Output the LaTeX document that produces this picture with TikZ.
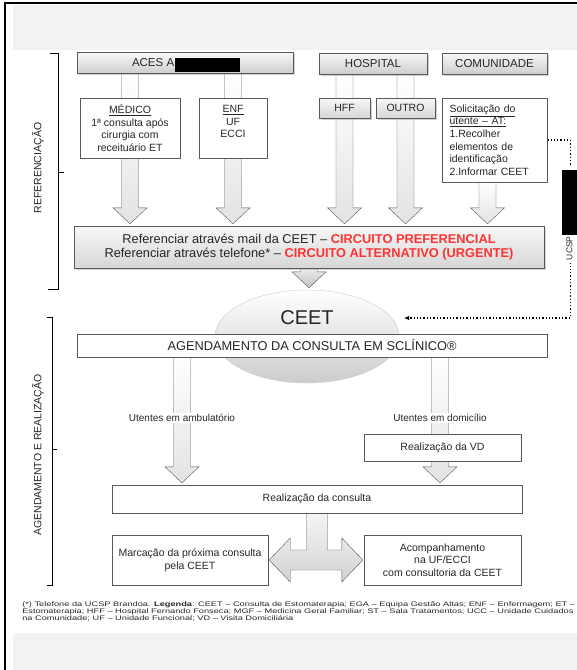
\documentclass[tikz,border=0pt]{standalone}
\usepackage{fontspec}
\setmainfont{Liberation Sans}
\usetikzlibrary{arrows.meta, calc, shadows, shapes.geometric}

\pgfdeclarelayer{bg}
\pgfdeclarelayer{arrows}
\pgfsetlayers{bg,arrows,main}

\definecolor{txtgray}{HTML}{262626}
\definecolor{linegray}{HTML}{595959}
\definecolor{panelgray}{HTML}{F2F2F2}
\definecolor{circred}{HTML}{FF3333}

\newcommand{\fsz}[2]{\fontsize{#1}{#2}\selectfont}

% hollow down arrow: x taken from #2, starts at #3, tip at #4
\newcommand{\blockdown}[4][]{%
  \path[blockarr,#1] let \p1=(#2), \p2=(#3), \p3=(#4) in
    (\x1-8.5pt,\y2) -- (\x1+8.5pt,\y2) -- (\x1+8.5pt,\y3+18pt)
    -- (\x1+17pt,\y3+18pt) -- (\x1,\y3+2pt) -- (\x1-17pt,\y3+18pt)
    -- (\x1-8.5pt,\y3+18pt) -- cycle;}

% down then split left/right
\newcommand{\blocksplit}[3]{%
  \path[splitarr] let \p1=(#1), \p2=(#2), \p3=(#3) in
    (\x1-10.5pt,\y1) -- (\x1-10.5pt,\y2+10pt) -- (\x2+22pt,\y2+10pt)
    -- (\x2+22pt,\y2+22pt) -- (\x2+1pt,\y2) -- (\x2+22pt,\y2-22pt)
    -- (\x2+22pt,\y2-10pt) -- (\x3-22pt,\y2-10pt) -- (\x3-22pt,\y2-22pt)
    -- (\x3-1pt,\y2) -- (\x3-22pt,\y2+22pt) -- (\x3-22pt,\y2+10pt)
    -- (\x1+10.5pt,\y2+10pt) -- (\x1+10.5pt,\y1) -- cycle;}

\begin{document}
\begin{tikzpicture}[
  x=1pt, y=-1pt,
  >={Latex[length=5pt, width=4.5pt]},
  hdr/.style={draw=linegray, top color=gray!6, bottom color=gray!38,
    drop shadow={shadow xshift=1.5pt, shadow yshift=-1.5pt, opacity=0.35},
    minimum height=21pt, inner sep=0pt, font=\fsz{11.5}{13}, text=txtgray},
  box/.style={draw=linegray, fill=white, inner sep=2pt, align=center,
    font=\fsz{10.5}{12.6}, text=txtgray},
  gbox/.style={box, top color=gray!6, bottom color=gray!32,
    drop shadow={shadow xshift=1.5pt, shadow yshift=-1.5pt, opacity=0.35}},
  ceetnode/.style={ellipse, minimum width=184pt, minimum height=93pt,
    inner sep=0pt, draw=gray!40, top color=white, bottom color=gray!40,
    font=\fsz{20}{22}, text depth=37pt, text=txtgray},
  flowlbl/.style={fill=white, inner sep=1.5pt, font=\fsz{10}{12}, text=txtgray},
  sidelbl/.style={rotate=90, font=\fsz{10.5}{12}, text=txtgray},
  mask/.style={fill=black, inner sep=0pt},
  bracket/.style={draw=black, line width=0.8pt},
  blockarr/.style={draw=linegray, top color=white, bottom color=gray!22},
  ceetarr/.style={top color=gray!15, bottom color=gray!50},
  splitarr/.style={draw=linegray, top color=gray!8, bottom color=gray!35},
  dotarr/.style={->, dotted, line width=1.3pt},
  legend/.style={anchor=north west, align=left, inner sep=0pt,
    font=\fsz{6.6}{6.2}, text=txtgray, transform shape, xscale=1.4},
]
\useasboundingbox (0,0) rectangle (577,670);

% --- page ---
\begin{pgfonlayer}{bg}
\fill[white] (0,0) rectangle (577,670);
\fill[panelgray] (13,5) rectangle (577,50);
\fill[panelgray] (13,633) rectangle (577,670);
\draw[line width=1.6pt] (5,670) -- (5,3) -- (577,3);
\end{pgfonlayer}

% --- side brackets ---
\draw[bracket] (50,53) -- (58,53) -- (58,289) -- (48,289);
\draw[bracket] (58,172) -- (64,172);
\node[sidelbl] (lblref) at (38,168) {REFERENCIAÇÃO};

\draw[bracket] (47,317) -- (52,317) -- (52,585) -- (47,585);
\draw[bracket] (52,449) -- (57,449);
\node[sidelbl] (lblag) at (38,455) {AGENDAMENTO E REALIZAÇÃO};

% --- header row ---
\node[hdr, minimum width=216pt] (aces) at (185,63) {\makebox[106pt][l]{ACES A}};
\node[mask, minimum width=65pt, minimum height=14pt] (acesmask) at (207.5,65) {};
\node[hdr, minimum width=108pt] (hosp) at (373,63.5) {HOSPITAL};
\node[hdr, minimum width=105pt] (comu) at (494.5,63.5) {COMUNIDADE};

% --- sources ---
\node[box, minimum width=100pt, minimum height=60pt] (medico) at (130,128)
  {\underline{MÉDICO}\\1ª consulta após\\cirurgia com\\receituário ET};
\node[box, minimum width=68pt, minimum height=60pt] (enf) at (233,128)
  {\underline{ENF}\\UF\\ECCI\\\mbox{}};
\node[gbox, minimum width=51pt, minimum height=20pt] (hff) at (344.5,108) {HFF};
\node[gbox, minimum width=59pt, minimum height=20pt] (outro) at (405.5,108) {OUTRO};
\node[box, text width=90pt, align=left, inner xsep=7.5pt, minimum height=84pt]
  (soli) at (494.5,140)
  {\underline{Solicitação do}\\\underline{utente – AT:}\\1.Recolher\\elementos de\\identificação\\2.Informar CEET};

% --- referral ---
\node[gbox, minimum width=470pt, minimum height=42pt, font=\fsz{12.8}{14.5}]
  (ref) at (309,247)
  {Referenciar através mail da CEET – \textcolor{circred}{\textbf{CIRCUITO PREFERENCIAL}}\\
   Referenciar através telefone* – \textcolor{circred}{\textbf{CIRCUITO ALTERNATIVO (URGENTE)}}};

% --- CEET ---
\node[ceetnode] (ceet) at (307,336.5) {CEET};
\node[box, minimum width=470pt, minimum height=23pt, font=\fsz{12.8}{14}]
  (agenda) at (312,345.5) {AGENDAMENTO DA CONSULTA EM SCLÍNICO®};
\coordinate (ceetin) at (404,318);

% --- scheduling / execution ---
\node[flowlbl] (amb) at (182,418) {Utentes em ambulatório};
\node[flowlbl] (dom) at (440,418) {Utentes em domicílio};
\node[box, minimum width=157pt, minimum height=27pt] (vd) at (442.5,447.5) {Realização da VD};
\node[box, minimum width=410pt, minimum height=28pt] (cons) at (317,499) {Realização da consulta};
\node[box, minimum width=156pt, minimum height=50pt] (marc) at (190,560)
  {Marcação da próxima consulta\\pela CEET};
\node[box, minimum width=157pt, minimum height=50pt] (acomp) at (442.5,560)
  {Acompanhamento\\na UF/ECCI\\com consultoria da CEET};

% UCSP label on the dotted link
\node[rotate=90, fill=white, inner sep=3pt, font=\fsz{8.5}{10}, text=txtgray]
  (ucsp) at (569.5,214) {\makebox[92pt][l]{UCSP}};
\node[mask, minimum width=15pt, minimum height=65pt] (ucspmask) at (569.5,202.5) {};

% --- arrows (behind boxes) ---
\begin{pgfonlayer}{arrows}
\blockdown{medico}{aces.south}{ref.north}
\blockdown{enf}{aces.south}{ref.north}
\blockdown{hff}{hosp.south}{ref.north}
\blockdown{outro}{hosp.south}{ref.north}
\blockdown{$(soli)+(-7,0)$}{soli.south}{ref.north}
\blockdown[ceetarr]{ref}{ref.south}{ceet.north}
\blockdown{amb}{agenda.south}{cons.north}
\blockdown{dom}{agenda.south}{cons.north}
\blocksplit{cons.south}{marc.east}{acomp.west}
\draw[dotarr] (soli.east) -- ++(23,0) |- (ceetin);
\end{pgfonlayer}

% --- legend ---
\node[legend] (legend) at (22,602)
  {(*) Telefone da UCSP Brandoa. \textbf{Legenda}: CEET – Consulta de Estomaterapia; EGA – Equipa Gestão Altas; ENF – Enfermagem; ET –\\
   Estomaterapia; HFF – Hospital Fernando Fonseca; MGF – Medicina Geral Familiar; ST – Sala Tratamentos; UCC – Unidade Cuidados\\
   na Comunidade; UF – Unidade Funcional; VD – Visita Domiciliária};

\end{tikzpicture}
\end{document}
